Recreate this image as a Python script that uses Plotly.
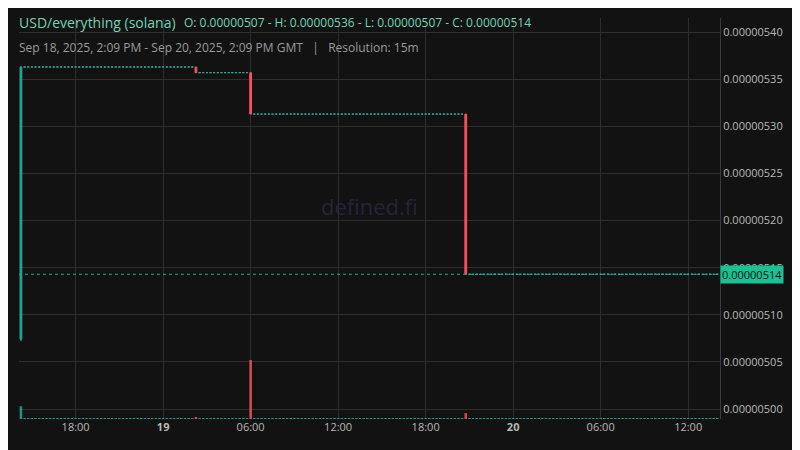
import pandas as pd
import plotly.graph_objects as go

# price levels (in 1e-8) between changes; candles are 15m
start = "2025-09-18 14:15"
end = "2025-09-20 14:00"
change_times = ["2025-09-18 14:15", "2025-09-19 02:15", "2025-09-19 06:00", "2025-09-19 20:45"]
change_open = [507.4, 536.3, 535.7, 531.3]
change_close = [536.3, 535.7, 531.3, 514.3]
change_high = [536.4, 536.3, 535.7, 531.3]
change_low = [507.2, 535.7, 531.3, 514.3]
change_vol = [13, 2, 60, 6]
doji_vol = 1

times = pd.date_range(start, end, freq="15min")
ct = list(pd.to_datetime(change_times))
sc = 1e-8
move = dict(x=[], o=[], h=[], l=[], c=[])
doji = dict(x=[], o=[], h=[], l=[], c=[])
v, vol_colors = [], []
UP, DOWN = "#22ab94", "#f7525f"
level = None
for t in times:
    if t in ct:
        k = ct.index(t)
        d = move
        vals = (change_open[k], change_high[k], change_low[k], change_close[k])
        v.append(change_vol[k])
        vol_colors.append(DOWN if change_close[k] < change_open[k] else UP)
        level = change_close[k]
    else:
        d = doji
        vals = (level, level, level, level)
        v.append(doji_vol)
        vol_colors.append(UP)
    d["x"].append(t)
    for key, val in zip("ohlc", vals):
        d[key].append(val * sc)

fig = go.Figure()
fig.add_trace(go.Bar(x=times, y=v, marker_color=vol_colors, marker_line_width=0,
                     yaxis="y2", opacity=0.85, showlegend=False, hoverinfo="skip"))
for d, dcol in [(doji, UP), (move, DOWN)]:
    fig.add_trace(go.Candlestick(x=d["x"], open=d["o"], high=d["h"], low=d["l"], close=d["c"],
                                 increasing=dict(line=dict(color=UP, width=1), fillcolor=UP),
                                 decreasing=dict(line=dict(color=dcol, width=1), fillcolor=dcol),
                                 whiskerwidth=0, showlegend=False))

last = change_close[-1] * sc
fig.add_hline(y=last, line=dict(color=UP, width=1, dash="dot"))

tickvals = pd.to_datetime(["2025-09-18 18:00", "2025-09-19 00:00", "2025-09-19 06:00", "2025-09-19 12:00",
                           "2025-09-19 18:00", "2025-09-20 00:00", "2025-09-20 06:00", "2025-09-20 12:00"])
ticktext = ["18:00", "<b>19</b>", "06:00", "12:00", "18:00", "<b>20</b>", "06:00", "12:00"]

fig.update_layout(
    width=800, height=450, paper_bgcolor="#121212", plot_bgcolor="#121212",
    margin=dict(l=11, r=88, t=10, b=39, autoexpand=False),
    font=dict(family="Open Sans", color="#b8b8b8", size=11),
    bargap=0.3,
    xaxis=dict(range=["2025-09-18 14:07", "2025-09-20 14:11"], rangeslider=dict(visible=False),
               tickvals=tickvals, ticktext=ticktext, gridcolor="#2e2e2e", showline=False,
               zeroline=False, ticks=""),
    yaxis=dict(side="right", range=[4.9894e-6, 5.415e-6], dtick=5e-8, tick0=5e-6, tickformat=".8f",
               gridcolor="#2e2e2e", zeroline=False, showline=True, linecolor="#3a3a3a", ticks=""),
    yaxis2=dict(overlaying="y", range=[0, 408], visible=False, showgrid=False),
    annotations=[
        dict(text="USD/everything (solana)", x=0.0, y=1.0, xref="paper", yref="paper",
             xanchor="left", yanchor="bottom", yshift=-16, xshift=-2, showarrow=False,
             font=dict(size=14, color="#6fd6b4")),
        dict(text="O: 0.00000507 - H: 0.00000536 - L: 0.00000507 - C: 0.00000514", x=0.0, y=1.0,
             xref="paper", yref="paper", xanchor="left", yanchor="bottom", xshift=163, yshift=-15,
             showarrow=False, font=dict(size=12, color="#6fd6b4")),
        dict(text="Sep 18, 2025, 2:09 PM - Sep 20, 2025, 2:09 PM GMT   |   Resolution: 15m", x=0.0, y=1.0,
             xref="paper", yref="paper", xanchor="left", yanchor="bottom", yshift=-40, xshift=-2,
             showarrow=False, font=dict(size=12, color="#9a9a9a")),
        dict(text="defined.fi", x=0.5, y=0.53, xref="paper", yref="paper", showarrow=False,
             font=dict(size=22, color="#25243a")),
        dict(text="0.00000514", x=1.0, y=last, xref="paper", yref="y", xanchor="left",
             showarrow=False, bgcolor="#17c394", font=dict(size=11, color="#0c0c0c"), borderpad=1),
    ],
)
fig.write_html("out.html")
